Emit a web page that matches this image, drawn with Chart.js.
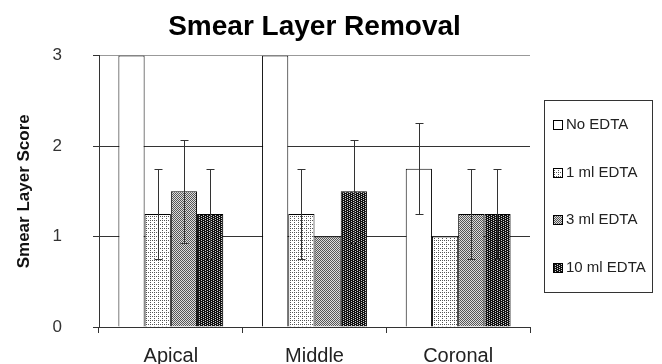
<!DOCTYPE html>
<html>
<head>
<meta charset="utf-8">
<script src="https://cdn.jsdelivr.net/npm/chart.js@4.4.0/dist/chart.umd.min.js"></script>
<style>
  html, body { margin: 0; padding: 0; background: #fff; overflow: hidden; }
  canvas { display: block; }
</style>
</head>
<body>
<canvas id="myChart" width="662" height="364"></canvas>
<script>
'use strict'
let regions = ['Apical', 'Middle', 'Coronal']
let seriesNames = ['No EDTA', '1 ml EDTA', '3 ml EDTA', '10 ml EDTA']
let noEdta = [3, 3, 1.75]
let oneMl = [1.25, 1.25, 1.0]
let threeMl = [1.5, 1.0, 1.25]
let tenMl = [1.25, 1.5, 1.25]
let noEdtaErr = [0, 0, 0.5]
let oneMlErr = [0.5, 0.5, 0]
let threeMlErr = [0.57, 0, 0.5]
let tenMlErr = [0.5, 0.57, 0.5]
let yTicks = [0, 1, 2, 3]

// little tiles used as fill patterns for the bars
function makePattern(size, bg, fg, dots) {
    let c = document.createElement('canvas');
    c.width = size;
    c.height = size;
    let cx = c.getContext('2d');
    cx.fillStyle = bg;
    cx.fillRect(0, 0, size, size);
    cx.fillStyle = fg;
    for (let i = 0; i < dots.length; i++) {
        cx.fillRect(dots[i][0], dots[i][1], 1, 1);
    }
    return cx.createPattern(c, 'repeat');
}
let ctx = document.getElementById('myChart').getContext('2d');
let fills = [
    '#ffffff',
    makePattern(4, '#ffffff', '#555555', [[0, 0], [2, 2], [2, 0]]),
    makePattern(2, '#dddddd', '#555555', [[0, 0], [1, 1]]),
    makePattern(4, '#111111', '#d0d0d0', [[1, 0], [1, 2], [3, 1], [3, 3]])
];
let values = [noEdta, oneMl, threeMl, tenMl]
let errors = [noEdtaErr, oneMlErr, threeMlErr, tenMlErr]

let datasets = [];
for (let i = 0; i < seriesNames.length; i++) {
    datasets.push({
        label: seriesNames[i],
        data: values[i],
        backgroundColor: fills[i],
        borderColor: '#000000',
        borderWidth: 1,
        borderSkipped: 'bottom',
        barPercentage: 1,
        categoryPercentage: 0.73
    });
}

let errorBars = {
    id: 'errorBars',
    afterDatasetsDraw(chart) {
        let c = chart.ctx;
        let y = chart.scales.y;
        c.save();
        c.strokeStyle = '#333333';
        c.lineWidth = 1;
        for (let d = 0; d < chart.data.datasets.length; d++) {
            let meta = chart.getDatasetMeta(d);
            for (let j = 0; j < meta.data.length; j++) {
                let err = errors[d][j];
                if (!err) continue;
                let x = Math.round(meta.data[j].x) + 0.5;
                let top = Math.round(y.getPixelForValue(values[d][j] + err)) + 0.5;
                let bot = Math.round(y.getPixelForValue(values[d][j] - err)) + 0.5;
                c.beginPath();
                c.moveTo(x, top); c.lineTo(x, bot);
                c.moveTo(x - 4, top); c.lineTo(x + 4, top);
                c.moveTo(x - 4, bot); c.lineTo(x + 4, bot);
                c.stroke();
            }
        }
        c.restore();
    }
};

let boxLegend = {
    id: 'boxLegend',
    afterDraw(chart) {
        let c = chart.ctx;
        c.save();
        c.strokeStyle = '#333333';
        c.lineWidth = 1;
        c.strokeRect(544.5, 100.5, 108, 192);
        c.font = '15px "Liberation Sans", Arial, sans-serif';
        c.textBaseline = 'middle';
        for (let i = 0; i < seriesNames.length; i++) {
            let cy = 125 + i * 47.5;
            c.fillStyle = fills[i];
            c.fillRect(553, Math.round(cy) - 5, 10, 10);
            c.strokeStyle = '#000000';
            c.strokeRect(553.5, Math.round(cy) - 4.5, 9, 9);
            c.fillStyle = '#222222';
            c.fillText(seriesNames[i], 566, cy);
        }
        c.restore();
    }
};

let myChart = new Chart(ctx, {
    type: 'bar',
    data: {
        labels: regions,
        datasets: datasets
    },
    plugins: [errorBars, boxLegend],
    options: {
        responsive: false,
        animation: false,
        layout: { padding: { left: 0, right: 132, top: 0, bottom: 0 } },
        plugins: {
            legend: { display: false },
            tooltip: { enabled: false },
            title: {
                display: true,
                fullSize: false,
                text: 'Smear Layer Removal',
                color: '#000000',
                font: { family: '"Liberation Sans", Arial, sans-serif', size: 28, weight: 'bold' },
                padding: { top: 10, bottom: 12 },
                align: 'center'
            }
        },
        scales: {
            x: {
                afterFit(scale) { scale.height = 37; },
                grid: { display: true, drawOnChartArea: false, offset: true, color: '#333333', tickLength: 6 },
                border: { color: '#333333' },
                ticks: {
                    color: '#222222',
                    padding: 11,
                    font: { family: '"Liberation Sans", Arial, sans-serif', size: 20 }
                }
            },
            y: {
                min: 0,
                max: 3,
                afterFit(scale) {
                    scale.width = 99;
                    // the big tick padding should not push the plot up
                    scale.paddingTop = 10;
                    scale.paddingBottom = 10;
                },
                afterBuildTicks(scale) { scale.ticks = yTicks.map(v => ({ value: v })); },
                grid: {
                    color: c => (c.tick && c.tick.value === 3 ? '#999999' : '#333333'),
                    tickColor: '#333333',
                    tickLength: 6
                },
                border: { color: '#333333' },
                ticks: {
                    color: '#333333',
                    padding: 31,
                    font: { family: '"Liberation Sans", Arial, sans-serif', size: 17 }
                },
                title: {
                    display: true,
                    text: 'Smear Layer Score',
                    color: '#111111',
                    font: { family: '"Liberation Sans", Arial, sans-serif', size: 17, weight: 'bold' },
                    padding: { top: 14, bottom: 0 }
                }
            }
        }
    }
});
</script>
</body>
</html>
